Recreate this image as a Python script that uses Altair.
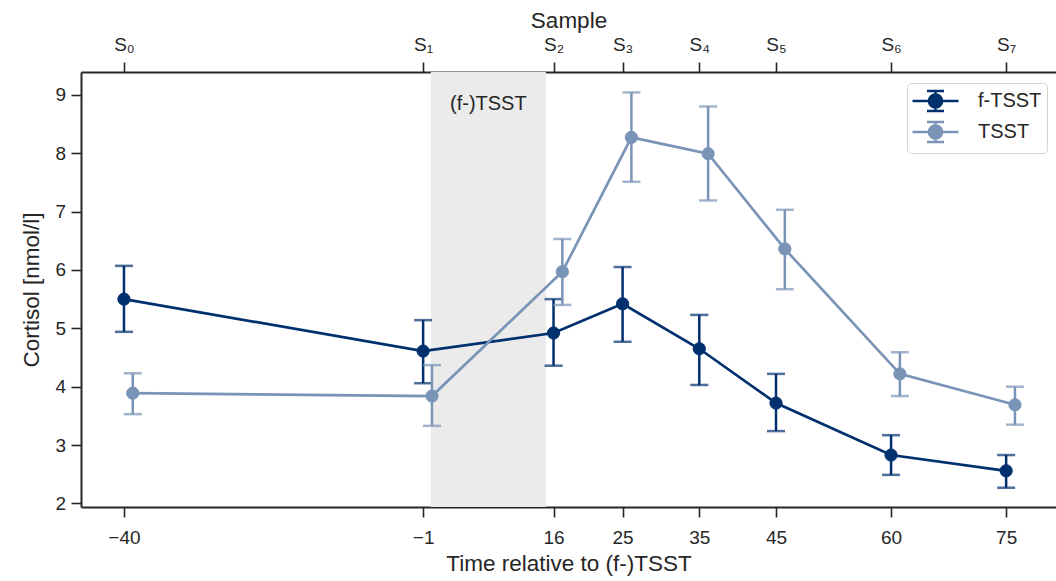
import altair as alt
import pandas as pd

# ---- data ----
times = [-40, -1, 16, 25, 35, 45, 60, 75]
samples = ["S₀", "S₁", "S₂", "S₃", "S₄", "S₅", "S₆", "S₇"]
conditions = ["f-TSST", "TSST"]
ftsst_mean = [5.50, 4.61, 4.92, 5.42, 4.65, 3.72, 2.83, 2.56]
ftsst_low = [4.94, 4.06, 4.36, 4.77, 4.03, 3.24, 2.49, 2.27]
ftsst_high = [6.07, 5.14, 5.50, 6.05, 5.23, 4.22, 3.17, 2.83]
tsst_mean = [3.89, 3.84, 5.97, 8.27, 7.99, 6.36, 4.22, 3.69]
tsst_low = [3.53, 3.33, 5.40, 7.51, 7.19, 5.67, 3.84, 3.35]
tsst_high = [4.23, 4.37, 6.53, 9.04, 8.80, 7.03, 4.59, 4.00]
stress_start = [0]
stress_end = [15]
stress_label = ["(f-)TSST"]
stress_label_y = [8.85]
y_ticks = [2, 3, 4, 5, 6, 7, 8, 9]

# ---- style ----
colors = ["#00306e", "#7a94b7"]
DODGE = 1.15
FONT = "Liberation Sans"
INK = "#262626"
W, H = 975, 435

df = pd.DataFrame({
    "time": times * 2,
    "condition": [conditions[0]] * len(times) + [conditions[1]] * len(times),
    "mean": ftsst_mean + tsst_mean,
    "low": ftsst_low + tsst_low,
    "high": ftsst_high + tsst_high,
})
shade_df = pd.DataFrame({"start": stress_start, "end": stress_end,
                         "label": stress_label, "ly": stress_label_y})
samples_df = pd.DataFrame({"time": times, "sample": samples})

xscale = alt.Scale(domain=[-45.6, 81.5], nice=False, zero=False)
yscale = alt.Scale(domain=[1.94, 9.39], nice=False, zero=False)
cscale = alt.Scale(domain=conditions, range=colors)

# bottom axis lives on the shade layer
shade = alt.Chart(shade_df).mark_rect(color="#ebebeb").encode(
    x=alt.X("start:Q", scale=xscale,
            axis=alt.Axis(values=times, title="Time relative to (f-)TSST",
                          orient="bottom", grid=False, format="d",
                          labelPadding=11, titlePadding=5)),
    x2="end:Q",
    y=alt.value(0),
    y2=alt.value(H),
)

shade_text = alt.Chart(shade_df).transform_calculate(
    mid="(datum.start + datum.end) / 2"
).mark_text(fontSize=20, font=FONT, color=INK, baseline="middle").encode(
    x=alt.X("mid:Q", scale=xscale, axis=None),
    y=alt.Y("ly:Q", scale=yscale,
            axis=alt.Axis(values=y_ticks, title="Cortisol [nmol/l]", grid=False,
                          format="d", labelPadding=5.5, titlePadding=11)),
    text="label:N",
)

label_expr = "''"
for t, s in reversed(list(zip(times, samples))):
    label_expr = f"datum.value == {t} ? '{s}' : " + label_expr

top_axis = alt.Chart(samples_df).mark_point(opacity=0).encode(
    x=alt.X("time:Q", scale=xscale,
            axis=alt.Axis(values=times, orient="top", title="Sample",
                          labelExpr=label_expr, grid=False, labelPadding=8,
                          titlePadding=3)),
    y=alt.value(0),
)

legend_path = ("M-2,0H2M0,-0.87V0.87M-0.74,-0.87H0.74M-0.74,0.87H0.74"
               "M-0.57,0A0.57,0.57,0,1,1,0.57,0A0.57,0.57,0,1,1,-0.57,0Z")
legend = alt.Legend(
    title=None, orient="none", legendX=826, legendY=11,
    symbolType=legend_path, symbolSize=529, symbolOffset=10.5,
    labelOffset=29.5, rowPadding=-1, padding=5,
    strokeColor="#d4d4d4", cornerRadius=4, fillColor="white",
    labelFontSize=20, labelFont=FONT, labelColor=INK,
    symbolStrokeWidth=2.5, symbolOpacity=1)

base = alt.Chart(df).transform_calculate(
    xp=f"datum.time + (datum.condition == '{conditions[1]}' ? {DODGE} : 0)"
)

layers = [shade, shade_text, top_axis]
for cond in conditions:
    b = base.transform_filter(alt.datum.condition == cond)
    xe = alt.X("xp:Q", scale=xscale, axis=None)
    st = alt.Stroke("condition:N", scale=cscale, legend=legend)
    fi = alt.Fill("condition:N", scale=cscale, legend=legend)
    line = b.mark_line(strokeWidth=2.7).encode(
        x=xe, y=alt.Y("mean:Q", scale=yscale), stroke=st)
    rule = b.mark_rule(strokeWidth=2.5).encode(
        x=xe, y=alt.Y("low:Q", scale=yscale), y2="high:Q", stroke=st)
    tick_lo = b.mark_tick(orient="horizontal", size=18, thickness=2.5).encode(
        x=xe, y=alt.Y("low:Q", scale=yscale), fill=fi)
    tick_hi = b.mark_tick(orient="horizontal", size=18, thickness=2.5).encode(
        x=xe, y=alt.Y("high:Q", scale=yscale), fill=fi)
    pts = b.mark_point(filled=True, size=150, opacity=1, strokeWidth=1).encode(
        x=xe, y=alt.Y("mean:Q", scale=yscale), fill=fi, stroke=st)
    layers += [line, rule, tick_lo, tick_hi, pts]

chart = alt.layer(*layers).resolve_axis(x="independent").properties(
    width=W, height=H, background="white",
    autosize=alt.AutoSizeParams(type="none"),
    padding={"left": 81, "top": 72, "right": 0, "bottom": 74},
).configure_view(stroke=None).configure_axis(
    labelFont=FONT, titleFont=FONT, labelFontSize=19, titleFontSize=22.5,
    labelColor=INK, titleColor=INK, titleFontWeight="normal",
    domainColor=INK, domainWidth=2, tickColor=INK, tickWidth=1.6, tickSize=10,
)

chart.save("out.html", embed_options={"renderer": "svg", "actions": False})
